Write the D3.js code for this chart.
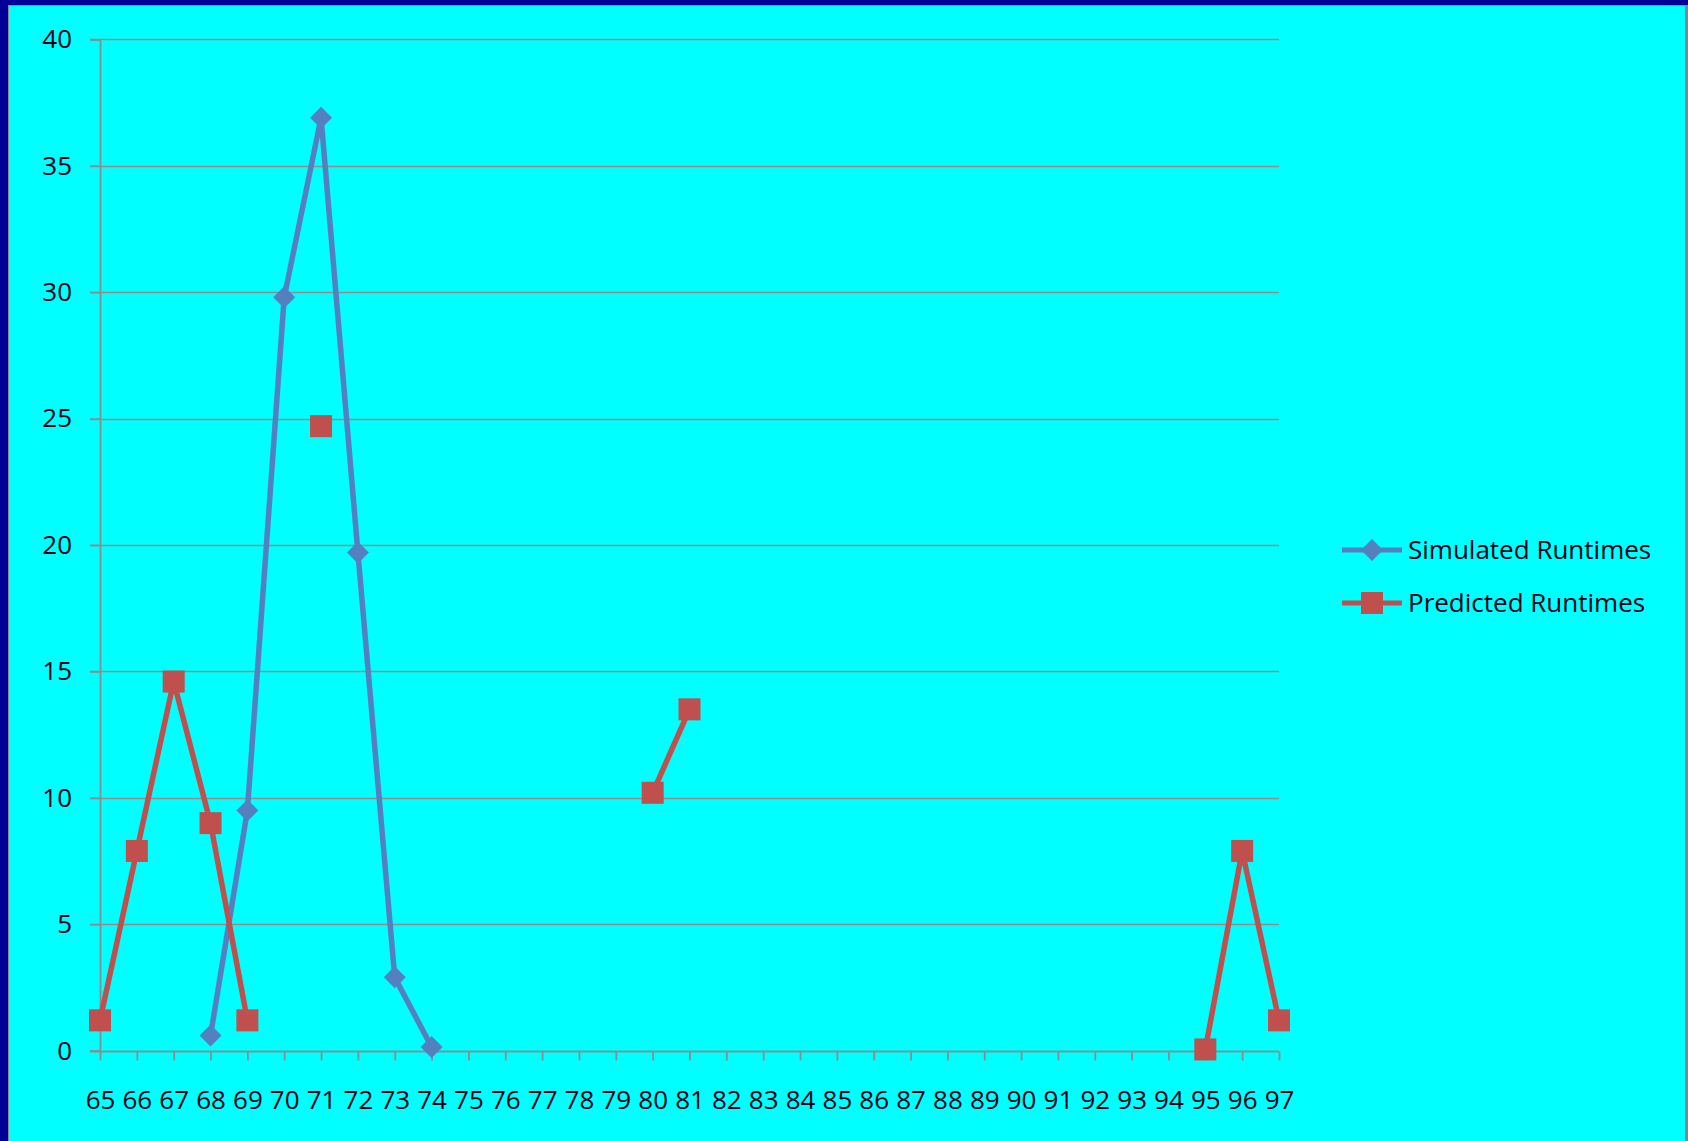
<!DOCTYPE html>
<html>
<head>
<meta charset="utf-8">
<script src="https://cdn.jsdelivr.net/npm/d3@7"></script>
<style>
  html, body { margin: 0; padding: 0; background: #000099; }
  svg { display: block; }
  text { font-family: "Open Sans", sans-serif; }
</style>
</head>
<body>
<svg id="chart" width="1688" height="1141"></svg>
<script>
// ---- data ----
const categories = [65, 66, 67, 68, 69, 70, 71, 72, 73, 74, 75, 76, 77, 78, 79, 80, 81,
                    82, 83, 84, 85, 86, 87, 88, 89, 90, 91, 92, 93, 94, 95, 96, 97];
const simulatedRuntimes = [null, null, null, 0.6, 9.5, 29.8, 36.9, 19.7, 2.9, 0.15,
                           null, null, null, null, null, null, null,
                           null, null, null, null, null, null, null, null, null, null, null, null, null,
                           null, null, null];
const predictedRuntimes = [1.2, 7.9, 14.6, 9.0, 1.2, null, 24.7, null, null, null,
                           null, null, null, null, null, 10.2, 13.5,
                           null, null, null, null, null, null, null, null, null, null, null, null, null,
                           0.05, 7.9, 1.2];
const yTicks = [0, 5, 10, 15, 20, 25, 30, 35, 40];
const seriesNames = ["Simulated Runtimes", "Predicted Runtimes"];

// ---- layout ----
const W = 1688, H = 1141;
const plot = { left: 100, right: 1279, top: 39.3, bottom: 1050.7 };
const gridColor = "#a08686";
const axisColor = "#8c8c8c";
const blue = "#5580c0";
const red = "#c0504d";
const textColor = "#020214";

const svg = d3.select("#chart");

// background / frame
svg.append("rect").attr("x", 0).attr("y", 0).attr("width", W).attr("height", H).attr("fill", "#000099");
svg.append("rect").attr("x", 8.5).attr("y", 5.5).attr("width", W - 8.5).attr("height", H)
   .attr("fill", "#00ffff").attr("stroke", "#8a8a8a").attr("stroke-width", 1);
svg.append("rect").attr("x", 1685).attr("y", 5).attr("width", 3).attr("height", H - 5).attr("fill", "#7a8a8a");

const x = d3.scalePoint().domain(categories).range([plot.left, plot.right]);
const y = d3.scaleLinear().domain([0, 40]).range([plot.bottom, plot.top]);

// gridlines
svg.append("g").selectAll("line").data(yTicks).join("line")
  .attr("x1", plot.left - 10).attr("x2", plot.right)
  .attr("y1", d => Math.round(y(d)) + 0.5).attr("y2", d => Math.round(y(d)) + 0.5)
  .attr("stroke", d => d === 0 ? axisColor : gridColor).attr("stroke-width", 1.6);

// y axis
const yAxis = svg.append("g").attr("transform", `translate(${plot.left},0)`)
  .call(d3.axisLeft(y).tickValues(yTicks).tickSize(10).tickPadding(18).tickFormat(d3.format("d")));
yAxis.select(".domain").attr("stroke", axisColor).attr("stroke-width", 1.8);
yAxis.selectAll(".tick line").attr("stroke", axisColor).attr("stroke-width", 1.6);
yAxis.selectAll("text").attr("font-size", 26).attr("fill", textColor)
  .attr("font-family", "'Open Sans', sans-serif");

// x axis
const xAxis = svg.append("g").attr("transform", `translate(0,${Math.round(plot.bottom) + 0.5})`)
  .call(d3.axisBottom(x).tickSize(9).tickPadding(30));
xAxis.select(".domain").attr("stroke", axisColor).attr("stroke-width", 1.6)
  .attr("d", `M${plot.left - 10},0H${plot.right}`);
xAxis.selectAll(".tick line").attr("stroke", axisColor).attr("stroke-width", 1.8);
xAxis.selectAll("text").attr("font-size", 26).attr("fill", textColor)
  .attr("font-family", "'Open Sans', sans-serif");

// lines
const line = d3.line()
  .defined(d => d.v !== null)
  .x(d => x(d.c)).y(d => y(d.v));

const simData = categories.map((c, i) => ({ c, v: simulatedRuntimes[i] }));
const preData = categories.map((c, i) => ({ c, v: predictedRuntimes[i] }));

svg.append("path").datum(simData).attr("d", line)
  .attr("fill", "none").attr("stroke", blue).attr("stroke-width", 5.5).attr("stroke-linejoin", "round");
svg.append("path").datum(preData).attr("d", line)
  .attr("fill", "none").attr("stroke", red).attr("stroke-width", 5.5).attr("stroke-linejoin", "round");

// markers
const diamond = s => `M0,${-s}L${s},0L0,${s}L${-s},0Z`;
svg.append("g").selectAll("path").data(simData.filter(d => d.v !== null)).join("path")
  .attr("transform", d => `translate(${x(d.c)},${y(d.v)})`)
  .attr("d", diamond(11)).attr("fill", blue);
svg.append("g").selectAll("rect").data(preData.filter(d => d.v !== null)).join("rect")
  .attr("x", d => x(d.c) - 11).attr("y", d => y(d.v) - 11)
  .attr("width", 22).attr("height", 22).attr("fill", red);

// legend
const legend = svg.append("g");
const legendY = [550, 603];
const legendColors = [blue, red];
seriesNames.forEach((name, i) => {
  const g = legend.append("g").attr("transform", `translate(0,${legendY[i]})`);
  g.append("line").attr("x1", 1342).attr("x2", 1402).attr("y1", 0).attr("y2", 0)
    .attr("stroke", legendColors[i]).attr("stroke-width", 5);
  if (i === 0) {
    g.append("path").attr("transform", "translate(1372,0)").attr("d", diamond(11)).attr("fill", blue);
  } else {
    g.append("rect").attr("x", 1361).attr("y", -11).attr("width", 22).attr("height", 22).attr("fill", red);
  }
  g.append("text").attr("x", 1408).attr("y", 0).attr("dy", "0.35em")
    .attr("font-size", 26).attr("fill", textColor).text(name);
});
</script>
</body>
</html>
